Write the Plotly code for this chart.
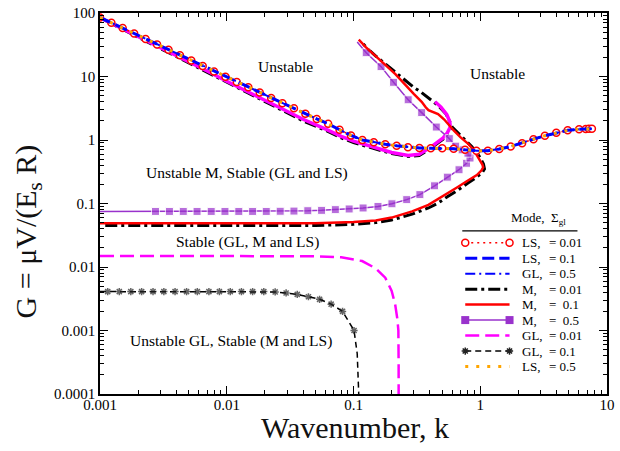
import plotly.graph_objects as go

# ---------------- data: neutral stability curves G(k) ----------------
# Long-wave / short-wave branch shared by LS (all Sigma) and GL (Sigma=0.5)
ls_k = [0.001, 0.00123, 0.00151, 0.00186, 0.00229, 0.00282, 0.00347, 0.00427, 0.00525,
        0.00646, 0.00794, 0.00977, 0.0120, 0.0148, 0.0182, 0.0224, 0.0275, 0.0339,
        0.0417, 0.0513, 0.0631, 0.0776, 0.0955, 0.1175, 0.1445, 0.178, 0.219, 0.269,
        0.331, 0.407, 0.501, 0.617, 0.759, 0.933, 1.148, 1.413, 1.738, 2.138, 2.630,
        3.236, 3.981, 4.898, 6.026, 6.8, 7.2, 7.6]
ls_g = [85, 70, 58, 47.5, 39, 32, 26.3, 21.6, 17.8,
        14.6, 12.0, 9.9, 8.2, 6.8, 5.6, 4.6, 3.8, 3.15,
        2.6, 2.15, 1.8, 1.45, 1.18, 1.0, 0.92, 0.86, 0.81, 0.77,
        0.75, 0.74, 0.74, 0.73, 0.70, 0.68, 0.68, 0.72, 0.79, 0.89, 1.03,
        1.17, 1.30, 1.42, 1.48, 1.49, 1.50, 1.50]

# M, Sigma = 0.01: lower branch + fold + tongue, then the upper-left branch
m001_k = [0.0011, 0.01, 0.05, 0.1, 0.15, 0.2, 0.29, 0.39, 0.46, 0.55, 0.66, 0.8, 0.94,
          1.04, 1.08, 1.06, 0.98, 0.86, 0.74, 0.64, 0.6, 0.585, 0.56, 0.535, 0.5, 0.465,
          0.42, 0.386, 0.34, 0.30, 0.25, 0.214, 0.18, 0.15, 0.13, 0.114, None,
          0.001, 0.002, 0.004, 0.007, 0.01, 0.02, 0.04, 0.061, 0.08, 0.1, 0.15, 0.2,
          0.27, 0.33, 0.41, 0.47, 0.51, 0.56, 0.59]
m001_g = [0.045, 0.045, 0.045, 0.047, 0.05, 0.055, 0.068, 0.085, 0.1, 0.128, 0.16, 0.21, 0.26,
          0.31, 0.35, 0.42, 0.56, 0.78, 1.05, 1.38, 1.6, 1.8, 2.2, 2.6, 3.0, 3.5,
          4.1, 4.7, 5.7, 6.7, 9.0, 11.8, 15.5, 21, 27, 36, None,
          84, 41.5, 20.5, 11.6, 8.0, 3.95, 2.0, 1.4, 1.08, 0.91, 0.71, 0.61,
          0.55, 0.57, 0.75, 0.91, 1.03, 1.28, 1.6]

# M, Sigma = 0.1
m01_k = [0.001, 0.01, 0.05, 0.1, 0.15, 0.2, 0.29, 0.39, 0.46, 0.55, 0.66, 0.8, 0.94, 1.02,
         1.055, 1.04, 1.0, 0.89, 0.8, 0.7, 0.62, 0.57, 0.52, 0.465, 0.42, 0.39, 0.37,
         0.345, 0.30, 0.25, 0.214, 0.18, 0.149, 0.125, 0.11]
m01_g = [0.049, 0.049, 0.049, 0.051, 0.054, 0.06, 0.075, 0.095, 0.115, 0.145, 0.18, 0.23, 0.28, 0.33,
         0.37, 0.41, 0.47, 0.69, 0.88, 1.1, 1.4, 1.7, 2.1, 2.55, 2.75, 2.95, 3.3,
         4.0, 5.3, 7.8, 10.9, 15, 21, 29, 38]

# M, Sigma = 0.5
m05_k = [0.001, 0.00274, 0.00353, 0.00454, 0.00583, 0.00754, 0.00968, 0.01245, 0.016, 0.0205,
         0.0264, 0.0339, 0.0436, 0.056, 0.0719, 0.0924, 0.119, 0.156, 0.201, 0.263, 0.334,
         0.436, 0.55, 0.68, 0.78, 0.83, 0.80, 0.72, 0.64, 0.57, 0.45, 0.345, 0.27, 0.207,
         0.165, 0.126, 0.107]
m05_g = [0.075, 0.075, 0.075, 0.075, 0.075, 0.075, 0.075, 0.075, 0.075, 0.075,
         0.0755, 0.076, 0.077, 0.078, 0.080, 0.082, 0.085, 0.09, 0.099, 0.115, 0.138,
         0.19, 0.26, 0.34, 0.43, 0.52, 0.62, 0.70, 0.80, 1.05, 1.6, 2.7, 4.3, 8.1,
         14.3, 23.7, 34.8]
m05_marker = [0] + [8] * 35 + [0]

# upper branch companion (magenta, not in key)
up_k = [0.001, 0.002, 0.004, 0.007, 0.01, 0.02, 0.04, 0.061, 0.08, 0.1, 0.15, 0.2, 0.27,
        0.33, 0.41, 0.47, 0.51, 0.55, 0.58, 0.575, 0.545, 0.49, 0.44]
up_g = [85, 43, 21.5, 12.2, 8.4, 4.15, 2.12, 1.47, 1.14, 0.96, 0.74, 0.635, 0.57,
        0.595, 0.78, 0.95, 1.08, 1.3, 1.6, 1.95, 2.5, 3.3, 4.0]

# GL, Sigma = 0.01
gl001_k = [0.001, 0.01, 0.05, 0.08, 0.117, 0.15, 0.178, 0.2, 0.213, 0.222, 0.226, 0.227, 0.227]
gl001_g = [0.0149, 0.0149, 0.0148, 0.0142, 0.0124, 0.0095, 0.0068, 0.0042, 0.0026, 0.0015,
           0.001, 0.0003, 0.0001]

# GL, Sigma = 0.1
gl01_k = [0.001, 0.00115, 0.00142, 0.00175, 0.00213, 0.00262, 0.00319, 0.00391, 0.00482,
          0.00586, 0.00723, 0.00875, 0.01066, 0.01306, 0.016, 0.0196, 0.0241, 0.0294,
          0.036, 0.0441, 0.054, 0.0666, 0.082, 0.101, 0.107, 0.11]
gl01_g = [0.0041, 0.0041, 0.0041, 0.0041, 0.0041, 0.0041, 0.0041, 0.0041, 0.0041,
          0.0041, 0.0041, 0.0041, 0.0041, 0.0041, 0.0041, 0.0041, 0.00405, 0.0039,
          0.0037, 0.0034, 0.0031, 0.0026, 0.002, 0.001, 0.00043, 0.0001]
gl01_marker = [0] + [6] * 23 + [0, 0]

# tick labels
x_ticks = [0.001, 0.01, 0.1, 1, 10]
x_tick_text = ["0.001", "0.01", "0.1", "1", "10"]
y_ticks = [0.0001, 0.001, 0.01, 0.1, 1, 10, 100]
y_tick_text = ["0.0001", "0.001", "0.01", "0.1", "1", "10", "100"]

# key rows: mode, Sigma_gl
key_mode = ["LS,", "LS,", "GL,", "M,", "M,", "M,", "GL,", "GL,", "LS,"]
key_sigma = ["= 0.01", "= 0.1", "= 0.5", "= 0.01", "=\u00a0 0.1", "=\u00a0 0.5", "= 0.01", "= 0.1", "= 0.5"]

# region labels
region_text = ["Unstable", "Unstable", "Unstable M, Stable (GL and LS)",
               "Stable (GL, M and LS)", "Unstable GL, Stable (M and LS)"]

# ---------------- styles ----------------
FONT = "Liberation Serif, Times New Roman, serif"
RED = "#ff0000"
BLUE = "#0000ff"
VIOLET = "#9932cc"
MAGENTA = "#ff00ff"
ORANGE = "#ffa500"

styles = [
    dict(line=dict(color=RED, width=1.5, dash="2px,4px"),
         marker=dict(symbol="circle", size=7, color="white", line=dict(color=RED, width=1.5))),
    dict(line=dict(color=BLUE, width=3, dash="12px,5px")),
    dict(line=dict(color=BLUE, width=2, dash="10px,4px,2px,4px")),
    dict(line=dict(color="black", width=3, dash="12px,4px,3px,4px")),
    dict(line=dict(color=RED, width=2.5)),
    dict(line=dict(color=VIOLET, width=1.5),
         marker=dict(symbol="square", size=8, color=VIOLET)),
    dict(line=dict(color=MAGENTA, width=2.5, dash="14px,6px")),
    dict(line=dict(color="black", width=1.5, dash="6px,4px"),
         marker=dict(symbol="asterisk-open", size=6, color="#222", line=dict(color="#222", width=1.5))),
    dict(line=dict(color=ORANGE, width=3, dash="3px,8px")),
]

# plot frame in pixels
W, H = 620, 451
L, R, T, B = 100, 5, 10, 57
X0, X1 = L, W - R
Y0, Y1 = H - B, T


def px(x):
    return (x - X0) / (X1 - X0)


def py(y):
    return (Y0 - y) / (Y0 - Y1)


fig = go.Figure()


def add(k, g, st, size=None):
    mode = "lines+markers" if "marker" in st else "lines"
    kw = dict(line=st["line"])
    if "marker" in st:
        m = dict(st["marker"])
        if size is not None:
            m["size"] = size
        kw["marker"] = m
    fig.add_trace(go.Scatter(x=k, y=g, mode=mode, showlegend=False,
                             connectgaps=False, hoverinfo="skip", **kw))


# lower curves
add(gl001_k, gl001_g, styles[6])
add(gl01_k, gl01_g, styles[7], gl01_marker)
# M curves
add(m001_k, m001_g, styles[3])
add(up_k, up_g, dict(line=dict(color=MAGENTA, width=3.5)))
add(m05_k, m05_g, styles[5], m05_marker)
add(m01_k, m01_g, styles[4])
# LS / GL(0.5) curve family
add(ls_k, ls_g, styles[0])
add(ls_k, ls_g, styles[1])
add(ls_k, ls_g, styles[2])
add(ls_k, ls_g, styles[8])

# ---------------- key drawn on an overlay axis in pixel units ----------------
key_x0, key_x1 = 471, 516
key_y0, key_dy = 241.5, 15.6
for i, st in enumerate(styles):
    yy = key_y0 + i * key_dy
    mode = "lines+markers" if "marker" in st else "lines"
    kw = dict(line=st["line"])
    if "marker" in st:
        kw["marker"] = st["marker"]
    fig.add_trace(go.Scatter(x=[key_x0, key_x1], y=[yy, yy], mode=mode, xaxis="x2", yaxis="y2",
                             showlegend=False, hoverinfo="skip", cliponaxis=False, **kw))

annotations = []
tfont = dict(family=FONT, size=13, color="black")
for i in range(len(key_mode)):
    yy = key_y0 + i * key_dy
    annotations.append(dict(x=px(527), y=py(yy), xref="paper", yref="paper", text=key_mode[i],
                            showarrow=False, xanchor="left", yanchor="middle", font=tfont))
    annotations.append(dict(x=px(554), y=py(yy), xref="paper", yref="paper", text=key_sigma[i],
                            showarrow=False, xanchor="left", yanchor="middle", font=tfont))
annotations.append(dict(x=px(545), y=py(217), xref="paper", yref="paper",
                        text="Mode,  \u03a3<sub>gl</sub>", showarrow=False,
                        xanchor="center", yanchor="middle", font=tfont))

# region labels
rfont = dict(family=FONT, size=15.5, color="black")
region_pos = [(288, 64), (504, 71), (249, 171), (250, 241), (233, 341)]
for txt, (xx, yy) in zip(region_text, region_pos):
    annotations.append(dict(x=px(xx), y=py(yy), xref="paper", yref="paper", text=txt,
                            showarrow=False, xanchor="center", yanchor="middle", font=rfont))

# axis titles
annotations.append(dict(x=px(359), y=py(428), xref="paper", yref="paper", text="Wavenumber, k",
                        showarrow=False, xanchor="center", yanchor="middle",
                        font=dict(family=FONT, size=30, color="#111")))
annotations.append(dict(x=px(27), y=py(230), xref="paper", yref="paper",
                        text="G = \u03bcV/(E<sub>s</sub> R)", textangle=-90,
                        showarrow=False, xanchor="center", yanchor="middle",
                        font=dict(family=FONT, size=30, color="#111")))

shapes = [dict(type="line", xref="paper", yref="paper", x0=px(468), x1=px(585),
               y0=py(229.5), y1=py(229.5), line=dict(color="black", width=1.2))]

minor_x = [m * 10.0 ** e for e in range(-3, 1) for m in range(2, 10)]
minor_y = [m * 10.0 ** e for e in range(-4, 2) for m in range(2, 10)]

axis_common = dict(type="log", showline=True, linecolor="black", linewidth=1.5, mirror="allticks",
                   ticks="inside", ticklen=8, tickwidth=1.2, tickcolor="black", showgrid=False,
                   zeroline=False, tickmode="array", ticklabeloverflow="allow",
                   tickfont=dict(family=FONT, size=15, color="black"))

fig.update_layout(
    width=W, height=H,
    margin=dict(l=L, r=R, t=T, b=B),
    paper_bgcolor="white", plot_bgcolor="white",
    xaxis=dict(range=[-3, 1], tickvals=x_ticks, ticktext=x_tick_text, ticklabelstandoff=-4,
               minor=dict(ticks="inside", ticklen=4, tickwidth=1, tickcolor="black",
                          tickmode="array", tickvals=minor_x, showgrid=False),
               **axis_common),
    yaxis=dict(range=[-4, 2], tickvals=y_ticks, ticktext=y_tick_text,
               minor=dict(ticks="inside", ticklen=4, tickwidth=1, tickcolor="black",
                          tickmode="array", tickvals=minor_y, showgrid=False),
               **axis_common),
    xaxis2=dict(overlaying="x", range=[X0, X1], visible=False, fixedrange=True),
    yaxis2=dict(overlaying="y", range=[Y0, Y1], visible=False, fixedrange=True),
    annotations=annotations,
    shapes=shapes,
    showlegend=False,
)

fig.write_html("out.html")
